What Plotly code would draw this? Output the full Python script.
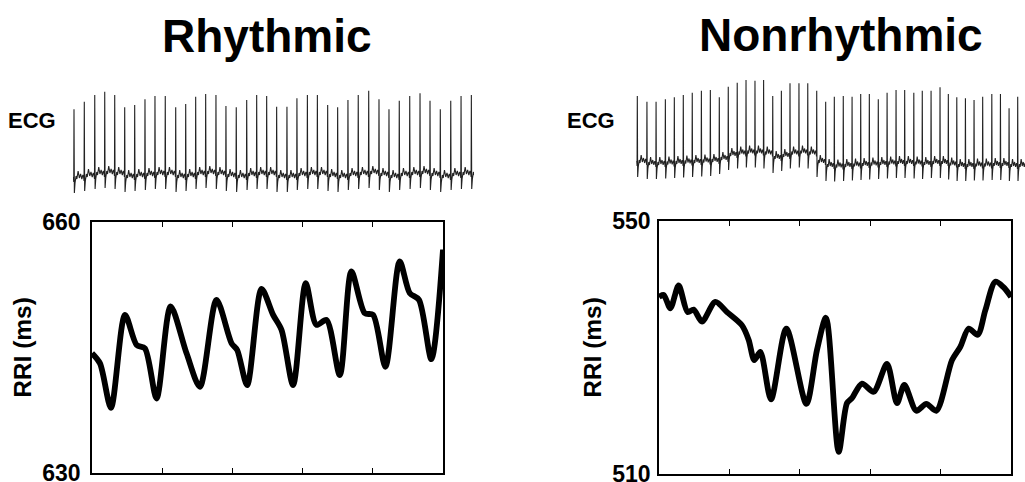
import plotly.graph_objects as go

# ---------------- DATA ----------------
# RR-interval curves (x in arbitrary time units 0..5, y in ms)
rhythmic_t = [0.0, 0.114, 0.27, 0.47, 0.636, 0.754, 0.92, 1.12, 1.347, 1.537, 1.774, 1.988,
              2.068, 2.21, 2.415, 2.58, 2.70, 2.865, 3.045, 3.197, 3.34, 3.53, 3.695, 3.885,
              4.004, 4.18, 4.383, 4.526, 4.658, 4.834, 5.0]
rhythmic_rri = [644.3, 643.1, 637.8, 648.9, 645.3, 644.9, 638.9, 649.9, 644.3, 640.3, 650.7, 645.5,
                644.7, 640.5, 652.0, 648.9, 647.1, 640.5, 652.7, 647.7, 648.3, 641.7, 654.1, 649.1,
                648.9, 642.7, 655.3, 651.5, 650.7, 643.6, 656.7]

nonrhythmic_t = [0.0, 0.066, 0.161, 0.279, 0.407, 0.492, 0.611, 0.80, 0.966, 1.179, 1.274, 1.354,
                 1.439, 1.591, 1.809, 2.093, 2.244, 2.372, 2.552, 2.67, 2.741, 2.884, 3.049, 3.239,
                 3.381, 3.485, 3.655, 3.797, 3.939, 4.162, 4.28, 4.399, 4.527, 4.636, 4.777, 4.896, 5.0]
nonrhythmic_rri = [538.0, 538.3, 536.2, 539.8, 535.6, 536.0, 534.1, 537.2, 535.6, 533.5, 531.2, 528.0,
                   529.3, 521.8, 533.0, 521.1, 529.6, 534.7, 513.5, 521.2, 522.0, 524.3, 523.0, 527.4,
                   521.2, 524.1, 520.0, 521.1, 520.0, 528.0, 530.1, 533.0, 532.0, 535.9, 540.4, 539.5, 538.0]

# ECG: R-peak times (s), R-peak level and per-beat baseline level (arbitrary units)
rhythmic_r_times = [0, 0.66, 1.33, 1.97, 2.61, 3.25, 3.89, 4.55, 5.19, 5.85, 6.52, 7.16, 7.80, 8.44,
                    9.10, 9.74, 10.40, 11.07, 11.71, 12.35, 12.99, 13.65, 14.29, 14.96, 15.60, 16.26,
                    16.90, 17.56, 18.22, 18.89, 19.55, 20.19, 20.85, 21.52, 22.18, 22.82, 23.48,
                    24.15, 24.81, 25.47]
rhythmic_r_level = [85.7, 93.3, 100, 103.3, 100, 87.7, 90, 95.7, 99, 99, 87.7, 91, 98.3, 101, 100, 89,
                    87.7, 95, 100, 99, 88.3, 88.3, 96.7, 100, 100, 90, 87.7, 95, 100, 104.3, 95.7,
                    85.7, 94.3, 99, 101.7, 94.3, 85.7, 94.3, 99, 100]
rhythmic_baseline = [15, 17, 19, 20, 19, 16, 17, 18, 19, 19, 16, 17, 19, 20, 19, 17, 16, 18, 19, 19,
                     16, 16, 18, 19, 19, 17, 16, 18, 19, 20, 18, 16, 18, 19, 20, 18, 16, 18, 19, 19]

nonrhythmic_r_times = [0, 0.58, 1.13, 1.69, 2.23, 2.77, 3.31, 3.86, 4.40, 4.94, 5.48, 6.02, 6.55, 7.09,
                       7.61, 8.16, 8.68, 9.20, 9.74, 10.27, 10.81, 11.35, 11.87, 12.41, 12.94, 13.46,
                       13.98, 14.52, 15.05, 15.59, 16.11, 16.66, 17.17, 17.70, 18.24, 18.74, 19.25,
                       19.77, 20.29, 20.81, 21.36, 21.88, 22.40, 22.92]
nonrhythmic_r_level = [89, 83.3, 83.3, 85.7, 87.7, 90, 92.3, 94.3, 95, 87.7, 98.3, 102.3, 105, 104.3,
                       105, 89, 94.3, 101.7, 101.7, 101.7, 94.3, 83.3, 88.3, 89, 88.3, 91, 91, 85.7,
                       92.3, 95, 95, 92.3, 94.3, 94.3, 97.7, 91, 87.7, 86.7, 85, 88.3, 91, 91, 76.7, 88.3]
nonrhythmic_baseline = [21, 19, 19, 19.5, 20, 20.5, 21, 21.5, 22, 24, 28, 29.5, 30.5, 30.5, 29.5, 25,
                        27, 29.5, 30.5, 29.5, 21, 17, 16.5, 17, 17.5, 18, 18.5, 19, 19.5, 20, 20,
                        19.5, 19, 20, 20, 18.5, 17, 17, 17.5, 17.5, 18, 18, 17, 17]

# one-beat ECG template: phase within RR interval and offset from baseline
template_phase = [0.035, 0.10, 0.20, 0.28, 0.40, 0.52, 0.64, 0.76, 0.86, 0.93, 0.975]
template_offset = [-13, -3, 4, 1, 9, 2, 6, 1, 5, 3, -1]

titles = ["Rhythmic", "Nonrhythmic"]
rri_ticks = [[630, 660], [510, 550]]

# --------------- BUILD ----------------
def build_ecg(r_times, r_level, baseline):
    xs, ys = [], []
    n = len(r_times)
    first_rr = r_times[1] - r_times[0]
    xs += [r_times[0] - 0.06 * first_rr, r_times[0] - 0.025 * first_rr]
    ys += [baseline[0] + 3, baseline[0] - 2]
    for k in range(n):
        t0 = r_times[k]
        rr = (r_times[k + 1] - t0) if k + 1 < n else (t0 - r_times[k - 1])
        xs.append(t0)
        ys.append(r_level[k])
        for ph, off in zip(template_phase, template_offset):
            xs.append(t0 + ph * rr)
            ys.append(baseline[k] + off)
    return xs, ys

W, H = 1025, 482
def px(x):
    return x / W
def py(y):
    return 1 - y / H

fig = go.Figure()
FONT = "Liberation Sans, Arial, Helvetica, sans-serif"

ecg_sets = [(rhythmic_r_times, rhythmic_r_level, rhythmic_baseline),
            (nonrhythmic_r_times, nonrhythmic_r_level, nonrhythmic_baseline)]
rri_sets = [(rhythmic_t, rhythmic_rri), (nonrhythmic_t, nonrhythmic_rri)]

# ECG traces
for i, (rt, rl, bl) in enumerate(ecg_sets):
    ex, ey = build_ecg(rt, rl, bl)
    fig.add_trace(go.Scatter(x=ex, y=ey, mode="lines",
                             line=dict(color="#222222", width=1.1),
                             xaxis="x%d" % (i + 3), yaxis="y%d" % (i + 3),
                             showlegend=False, hoverinfo="skip"))
# RRI traces
for i, (t, r) in enumerate(rri_sets):
    fig.add_trace(go.Scatter(x=t, y=r, mode="lines",
                             line=dict(color="black", width=5.8, shape="spline", smoothing=0.8),
                             xaxis="x" if i == 0 else "x2", yaxis="y" if i == 0 else "y2",
                             showlegend=False))

rri_common = dict(showline=True, linecolor="black", linewidth=1.5, mirror=True,
                  showgrid=False, zeroline=False, automargin=False)
x_rri = dict(rri_common, range=[0, 5], tickvals=[1, 2, 3, 4], ticks="inside",
             ticklen=5, tickcolor="black", tickwidth=1.2, showticklabels=False, mirror="ticks")

def y_rri(ticks, anchor, dom, standoff):
    return dict(rri_common, range=ticks, tickvals=ticks, ticktext=[str(v) for v in ticks],
                ticks="", tickfont=dict(family=FONT, size=23, color="black", weight="bold"),
                ticklabelstandoff=standoff, ticklabeloverflow="allow",
                anchor=anchor, domain=dom,
                title=dict(text="RRI (ms)", standoff=4,
                           font=dict(family=FONT, size=24.5, color="black", weight="bold")))

ecg_axis = dict(visible=False, showgrid=False, zeroline=False, automargin=False)

fig.update_layout(
    width=W, height=H, autosize=False, margin=dict(l=0, r=0, t=0, b=0, pad=0, autoexpand=False),
    paper_bgcolor="white", plot_bgcolor="white", showlegend=False,
    xaxis=dict(x_rri, domain=[px(92), px(443)], anchor="y"),
    yaxis=y_rri(rri_ticks[0], "x", [py(473), py(222)], 5),
    xaxis2=dict(x_rri, domain=[px(659), px(1011)], anchor="y2"),
    yaxis2=y_rri(rri_ticks[1], "x2", [py(474), py(221)], 2),
    xaxis3=dict(ecg_axis, domain=[px(73), px(474)], range=[-0.064, 25.64], anchor="y3"),
    yaxis3=dict(ecg_axis, domain=[py(195), py(88)], range=[0, 107], anchor="x3"),
    xaxis4=dict(ecg_axis, domain=[px(633), 1.0], range=[-0.26, 23.36], anchor="y4"),
    yaxis4=dict(ecg_axis, domain=[py(185), py(78)], range=[0, 107], anchor="x4"),
)

annos = [
    dict(text=titles[0], x=px(267), y=py(36), size=46),
    dict(text=titles[1], x=px(841), y=py(35), size=46),
    dict(text="ECG", x=px(32), y=py(120), size=22),
    dict(text="ECG", x=px(591), y=py(120), size=22),
]
for a in annos:
    fig.add_annotation(text=a["text"], x=a["x"], y=a["y"], xref="paper", yref="paper",
                       xanchor="center", yanchor="middle", showarrow=False,
                       font=dict(family=FONT, size=a["size"], color="black", weight="bold"))

fig.write_html("out.html", config={"displayModeBar": False},
               post_script="document.body.style.margin='0';document.body.style.overflow='hidden';")
